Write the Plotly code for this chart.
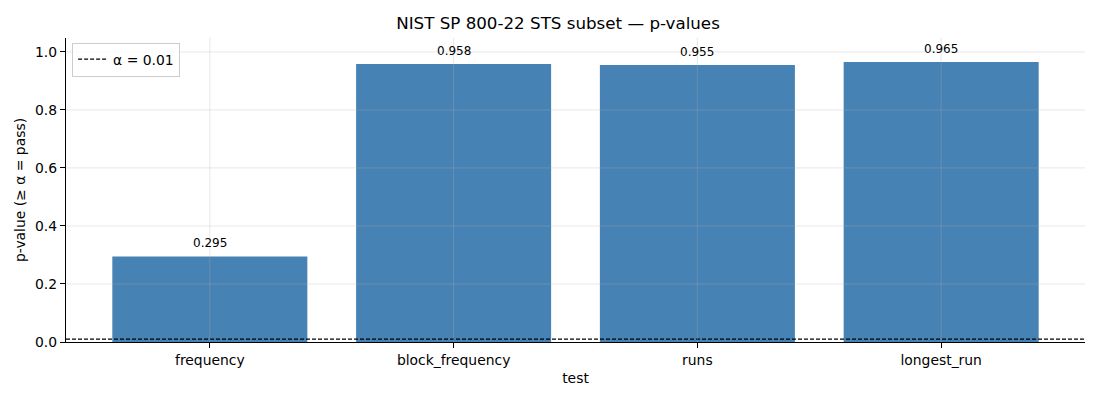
import plotly.graph_objects as go

# 数据
tests = ["frequency", "block_frequency", "runs", "longest_run"]
p_values = [0.295, 0.958, 0.955, 0.965]
alpha = 0.01
y_ticks = [0.0, 0.2, 0.4, 0.6, 0.8, 1.0]

FONT = "DejaVu Sans"
GRID = "rgba(176,176,176,0.3)"
X_RANGE = [-0.59, 3.59]

fig = go.Figure()

fig.add_trace(go.Bar(
    x=tests, y=p_values,
    width=0.8,
    marker=dict(color="#4682b4", line=dict(width=0)),
    showlegend=False,
))

# alpha 阈值线 (横跨整个x范围)
fig.add_trace(go.Scatter(
    x=X_RANGE, y=[alpha, alpha],
    mode="lines",
    line=dict(color="black", width=1.1, dash="4px,2px"),
    name="α = 0.01",
    xaxis="x2",
))

for t, v in zip(tests, p_values):
    fig.add_annotation(
        x=t, y=v, text=f"{v:.3f}",
        showarrow=False, yanchor="bottom", yshift=4,
        font=dict(family=FONT, size=12, color="black"),
    )

# 网格线画在柱子上面 (像 matplotlib 默认那样)
for t in tests:
    fig.add_shape(type="line", xref="x", yref="paper", x0=t, x1=t, y0=0, y1=1,
                  line=dict(color=GRID, width=1), layer="above")
for yt in y_ticks[1:]:
    fig.add_shape(type="line", xref="paper", yref="y", x0=0, x1=1, y0=yt, y1=yt,
                  line=dict(color=GRID, width=1), layer="above")

fig.update_layout(
    width=1100, height=400,
    paper_bgcolor="white", plot_bgcolor="white",
    margin=dict(l=58, r=23, t=30, b=66),
    font=dict(family=FONT, size=13.9, color="black"),
    title=dict(text="NIST SP 800-22 STS subset — p-values",
               x=0.5, xanchor="center", y=0.963, yanchor="middle",
               font=dict(family=FONT, size=16.7)),
    xaxis=dict(
        range=X_RANGE,
        title=dict(text="test", font=dict(size=13.9), standoff=6),
        showline=True, linecolor="black", linewidth=1.2,
        ticks="outside", ticklen=5, tickcolor="black",
        showgrid=False, zeroline=False,
    ),
    xaxis2=dict(range=X_RANGE, overlaying="x", visible=False),
    yaxis=dict(
        range=[0, 1.048],
        tickvals=y_ticks, tickformat=".1f",
        title=dict(text="p-value (≥ α = pass)", font=dict(size=13.9), standoff=6),
        showline=True, linecolor="black", linewidth=1.2,
        ticks="outside", ticklen=5, tickcolor="black",
        showgrid=False, zeroline=False, automargin=False,
    ),
    legend=dict(
        x=0.006, y=0.985, xanchor="left", yanchor="top",
        bgcolor="rgba(255,255,255,0.8)", bordercolor="#cccccc", borderwidth=1,
        font=dict(size=13.9), tracegroupgap=0,
    ),
    showlegend=True,
)

fig.write_html("out.html")
